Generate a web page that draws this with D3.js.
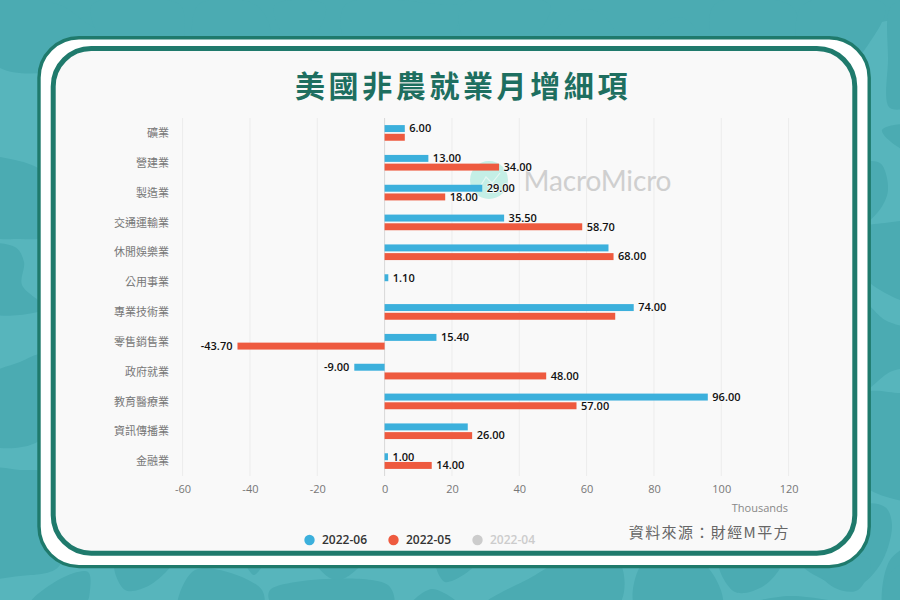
<!DOCTYPE html>
<html>
<head>
<meta charset="utf-8">
<script src="https://cdn.jsdelivr.net/npm/d3@7/dist/d3.min.js"></script>
<style>
html, body { margin: 0; padding: 0; background: #57b5bc; overflow: hidden; }
svg { display: block; }
text { font-family: "Open Sans", "Noto Sans CJK TC", sans-serif; }
</style>
</head>
<body>
<svg id="chart" width="900" height="600"></svg>
<script>
const categories = ['礦業', '營建業', '製造業', '交通運輸業', '休閒娛樂業', '公用事業', '專業技術業', '零售銷售業', '政府就業', '教育醫療業', '資訊傳播業', '金融業']
const june = [6, 13, 29, 35.5, 66.5, 1.1, 74, 15.4, -9, 96, 24.7, 1]
const may = [6, 34, 18, 58.7, 68, null, 68.5, -43.7, 48, 57, 26, 14]
// the original drops these labels, they collide with the neighbouring ones
const juneNoLabel = ['休閒娛樂業', '資訊傳播業']
const mayNoLabel = ['礦業', '專業技術業']
const xTicks = [-60, -40, -20, 0, 20, 40, 60, 80, 100, 120]
const legendNames = ['2022-06', '2022-05', '2022-04']

const BLUE = '#3cb0dc'
const RED = '#ee5a3f'
const GREEN = '#1f7a6c'
const TITLE_GREEN = '#1e6f60'
const DARK_BG = '#4babb2'

const svg = d3.select('#chart')

// background blobs, only the parts outside the card can be seen
const blobs = [
	[[-20, -20], [920, -20], [920, 9], [-20, 9]],
	[[-20, 0], [60, 5], [85, 22], [112, 40], [60, 70], [0, 68], [-20, 40]],
	[[92, 5], [180, 5], [184, 30], [180, 60], [110, 50]],
	[[198, 5], [256, 5], [270, 40], [200, 60]],
	[[275, 5], [325, 5], [315, 34], [285, 36]],
	[[345, 5], [450, 5], [462, 5], [440, 50], [350, 50]],
	[[462, 5], [550, 5], [530, 40], [470, 50]],
	[[553, 40], [568, 16], [585, 9], [604, 16], [616, 40]],
	[[652, 40], [665, 22], [678, 17], [692, 24], [697, 40]],
	[[714, 5], [790, 5], [800, 30], [790, 60], [718, 50]],
	[[803, 5], [885, 5], [868, 45], [850, 62], [800, 50]],
	[[892, 5], [920, 5], [920, 100], [890, 108], [888, 60]],
	[[882, 130], [905, 124], [925, 130], [920, 155], [895, 145]],
	[[860, 165], [880, 163], [888, 190], [878, 212], [860, 225]],
	[[860, 230], [885, 223], [920, 225], [920, 302], [880, 290], [860, 270]],
	[[860, 300], [885, 320], [920, 335], [920, 362], [890, 372], [860, 392]],
	[[860, 395], [900, 393], [920, 395], [920, 498], [890, 498], [860, 480]],
	[[860, 505], [885, 507], [892, 525], [880, 565], [855, 587], [820, 578], [800, 560]],
	[[890, 560], [920, 545], [920, 620], [886, 620]],
	[[-20, 160], [15, 160], [45, 175], [45, 235], [20, 239], [-20, 232]],
	[[-20, 247], [15, 247], [24, 262], [22, 285], [45, 308], [-20, 310]],
	[[-20, 382], [20, 362], [45, 355], [45, 435], [15, 448], [-20, 440]],
	[[-20, 472], [20, 470], [50, 475], [60, 565], [20, 576], [-20, 574]],
	[[30, 604], [62, 578], [88, 572], [90, 590], [85, 604]],
	[[115, 560], [173, 560], [150, 585], [125, 590]],
	[[178, 620], [195, 570], [262, 590], [258, 620]],
	[[245, 560], [264, 560], [254, 575]],
	[[273, 606], [270, 590], [388, 585], [392, 610]],
	[[315, 560], [363, 560], [345, 578], [330, 578]],
	[[436, 560], [474, 565], [445, 582]],
	[[410, 606], [432, 589], [460, 606]],
	[[483, 606], [530, 578], [565, 560], [618, 560], [618, 606]],
	[[636, 610], [645, 560], [700, 560], [722, 606]],
	[[719, 560], [782, 560], [765, 585], [735, 592]],
	[[740, 606], [790, 596], [853, 606]],
	[[810, 560], [870, 560], [858, 590], [835, 588]],
	[[887, 610], [888, 575], [920, 560], [920, 610]]
]
const blobLine = d3.line().curve(d3.curveCatmullRomClosed.alpha(0.5))
svg.selectAll('path.blob').data(blobs).join('path')
	.attr('class', 'blob')
	.attr('d', d => blobLine(d))
	.attr('fill', DARK_BG)

// card, double frame
svg.append('rect')
	.attr('x', 39).attr('y', 37.8).attr('width', 830.2).attr('height', 528.8)
	.attr('rx', 40).attr('ry', 40)
	.attr('fill', '#fff').attr('stroke', GREEN).attr('stroke-width', 3.4)
svg.append('rect')
	.attr('x', 53.2).attr('y', 48.5).attr('width', 801.6).attr('height', 504.7)
	.attr('rx', 38).attr('ry', 38)
	.attr('fill', '#f9f9f9').attr('stroke', GREEN).attr('stroke-width', 5)

svg.append('text')
	.attr('x', 463).attr('y', 97)
	.attr('text-anchor', 'middle')
	.style('font-family', '"Noto Sans CJK TC"')
	.style('font-size', '30px')
	.style('font-weight', 700)
	.style('letter-spacing', '3.6px')
	.attr('fill', TITLE_GREEN)
	.text('美國非農就業月增細項')

const x = d3.scaleLinear().domain([-60, 120]).range([182.6, 788.6])
const y = d3.scaleBand().domain(categories).range([118, 476])
const rowSeries = ['june', 'may']
const inner = d3.scaleBand().domain(rowSeries).range([0, y.bandwidth()])
	.paddingInner(0.2).paddingOuter(0.815)

// grid
svg.append('g').selectAll('line').data(xTicks).join('line')
	.attr('x1', d => x(d)).attr('x2', d => x(d))
	.attr('y1', 118).attr('y2', 476)
	.attr('stroke', d => d == 0 ? '#d8d8d8' : '#ececec')
	.attr('stroke-width', 1)

// watermark
const mark = svg.append('g')
mark.append('circle').attr('cx', 489).attr('cy', 180).attr('r', 19).attr('fill', '#c4efe6')
mark.append('polyline')
	.attr('points', '478,190 486,177 492,183 500,173')
	.attr('fill', 'none').attr('stroke', '#e6f7f3').attr('stroke-width', 1.2)
mark.append('text')
	.attr('x', 523.5).attr('y', 191)
	.style('font-family', 'Lato')
	.style('font-size', '28px')
	.attr('textLength', 148)
	.attr('fill', '#cfcfcf')
	.text('MacroMicro')

// axes
const xAxis = d3.axisBottom(x).tickValues(xTicks).tickSize(0).tickPadding(0).tickFormat(d => String(d))
const xg = svg.append('g').attr('transform', 'translate(0,485)').call(xAxis)
xg.select('.domain').remove()
xg.selectAll('text').style('font-family', '"Open Sans"').style('font-size', '11px').attr('fill', '#777')

const yAxis = d3.axisLeft(y).tickSize(0).tickPadding(0)
const yg = svg.append('g').attr('transform', 'translate(169,0.7)').call(yAxis)
yg.select('.domain').remove()
yg.selectAll('text').style('font-family', '"Noto Sans CJK TC"').style('font-size', '11px').attr('fill', '#777')

// bars and their labels
function drawSeries(name, values, color, noLabel) {
	const rows = categories.map((c, i) => ({ cat: c, value: values[i] })).filter(d => d.value != null)
	const g = svg.append('g')

	g.selectAll('rect').data(rows).join('rect')
		.attr('x', d => Math.min(x(0), x(d.value)))
		.attr('y', d => y(d.cat) + inner(name))
		.attr('width', d => Math.abs(x(d.value) - x(0)))
		.attr('height', inner.bandwidth())
		.attr('fill', color)

	g.selectAll('text').data(rows.filter(d => !noLabel.includes(d.cat))).join('text')
		.attr('x', d => x(d.value) + (d.value < 0 ? -5 : 4.5))
		.attr('y', d => y(d.cat) + inner(name) + inner.bandwidth() / 2)
		.attr('dy', '0.35em')
		.attr('text-anchor', d => d.value < 0 ? 'end' : 'start')
		.style('font-size', '11px')
		.style('font-weight', 600)
		.style('paint-order', 'stroke')
		.attr('stroke', '#f9f9f9')
		.attr('stroke-width', 1.5)
		.attr('fill', '#111')
		.text(d => d.value.toFixed(2))
}
drawSeries('june', june, BLUE, juneNoLabel)
drawSeries('may', may, RED, mayNoLabel)

svg.append('text')
	.attr('x', 788).attr('y', 512)
	.attr('text-anchor', 'end')
	.style('font-size', '11px')
	.attr('fill', '#888')
	.text('Thousands')

svg.append('text')
	.attr('x', 790).attr('y', 537.5)
	.attr('text-anchor', 'end')
	.style('font-family', '"Noto Sans CJK TC"')
	.style('font-size', '15px')
	.style('letter-spacing', '1.4px')
	.attr('fill', '#666')
	.text('資料來源：財經M平方')

// legend, 2022-04 is switched off in the original
const legendX = d3.scalePoint().domain(legendNames).range([309.5, 477.5])
const legendColor = d3.scaleOrdinal().domain(legendNames).range([BLUE, RED, '#ccc'])
const legend = svg.append('g').selectAll('g').data(legendNames).join('g')
	.attr('transform', d => 'translate(' + legendX(d) + ',540)')
legend.append('circle').attr('r', 5.2).attr('fill', d => legendColor(d))
legend.append('text')
	.attr('x', 12.5).attr('dy', '0.35em')
	.style('font-size', '12px')
	.style('font-weight', 600)
	.attr('fill', (d, i) => i == 2 ? '#ccc' : '#333')
	.text(d => d)
</script>
</body>
</html>
